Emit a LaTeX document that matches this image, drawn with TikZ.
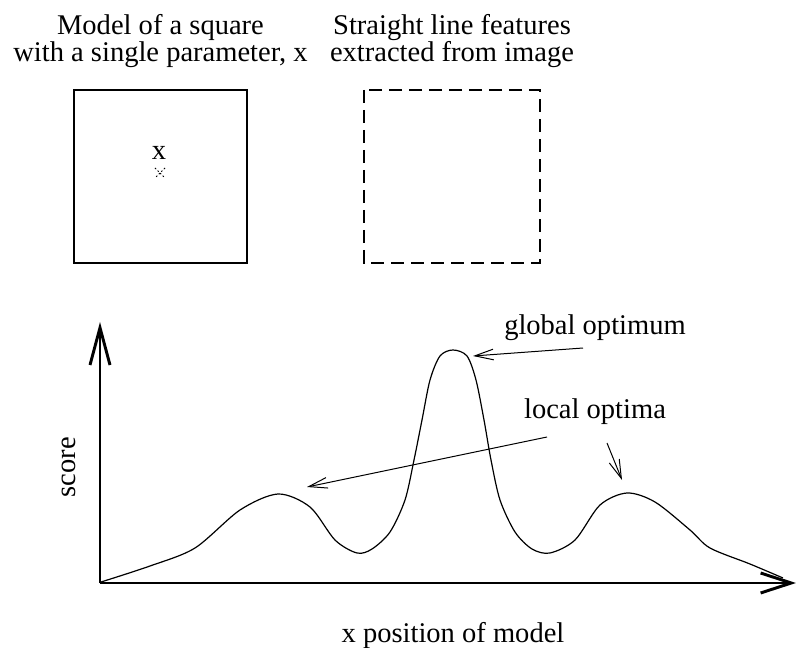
\documentclass[tikz,border=0pt]{standalone}
\usepackage{fontspec}
\setmainfont{Liberation Serif}
\usetikzlibrary{arrows.meta}
\tikzset{
  txt/.style={inner sep=0pt, font=\fontsize{21.4}{16.5}\selectfont},
  pointer/.style={line width=0.75pt, -{Straight Barb[length=14pt,width=8pt]}},
  axis/.style={line width=2.2pt},
}
\begin{document}
\begin{tikzpicture}[x=0.75pt,y=-0.75pt]
  \useasboundingbox (0,0) rectangle (796,648);
  % Model and features
  \node[txt,align=center,anchor=north] (modeltitle) at (160.5,14) {Model of a square\\with a single parameter, x};
  \node[txt,align=center,anchor=north] (featuretitle) at (452,14) {Straight line features\\extracted from image};
  \draw[line width=0.8pt] (74,90) rectangle (247,263);
  \node[txt,anchor=base] (param) at (159,160) {x};
  \draw[line width=0.6pt,dash pattern=on 1.2pt off 1.5pt] (155,168) -- (165,178) (165,168) -- (155,178);
  \draw[line width=0.8pt,dash pattern=on 10pt off 5pt] (364,90) rectangle (540,263);
  % Axes
  \coordinate (origin) at (100,583);
  \coordinate (ytip) at (100,322);
  \coordinate (xtip) at (796,583);
  \draw[axis,-{Straight Barb[length=28pt,width=15pt]}] (origin) -- (ytip);
  \draw[axis,-{Straight Barb[length=23pt,width=15pt]}] (origin) -- (xtip);
  \node[txt,rotate=90] (score) at (68.5,467) {score};
  \node[txt,anchor=base] (xpos) at (453,642) {x position of model};
  % Score curve
  \draw[line width=0.9pt] plot[smooth] coordinates {(101,582) (150,566) (195,548) (240,510)
    (278,494) (310,507) (335,540) (357,553) (372,549) (390,532) (405,500) (414,460)
    (422,420) (430,380) (440,356) (453,350) (467,356) (476,380) (484,420) (491,460)
    (500,500) (515,532) (532,549) (550,553) (575,540) (600,505) (627,493) (655,502)
    (690,530) (710,548) (750,564) (783,578)};
  % Optima
  \node[txt,anchor=base] (global) at (595,335) {global optimum};
  \node[txt,anchor=base] (local) at (595,419) {local optima};
  \coordinate (gtail) at (583,348);
  \coordinate (gpeak) at (473,356);
  \coordinate (ltail) at (547,437);
  \coordinate (lpeak) at (307,487);
  \coordinate (rtail) at (607,443);
  \coordinate (rpeak) at (622,480);
  \draw[pointer] (gtail) -- (gpeak);
  \draw[pointer] (ltail) -- (lpeak);
  \draw[pointer] (rtail) -- (rpeak);
\end{tikzpicture}
\end{document}
